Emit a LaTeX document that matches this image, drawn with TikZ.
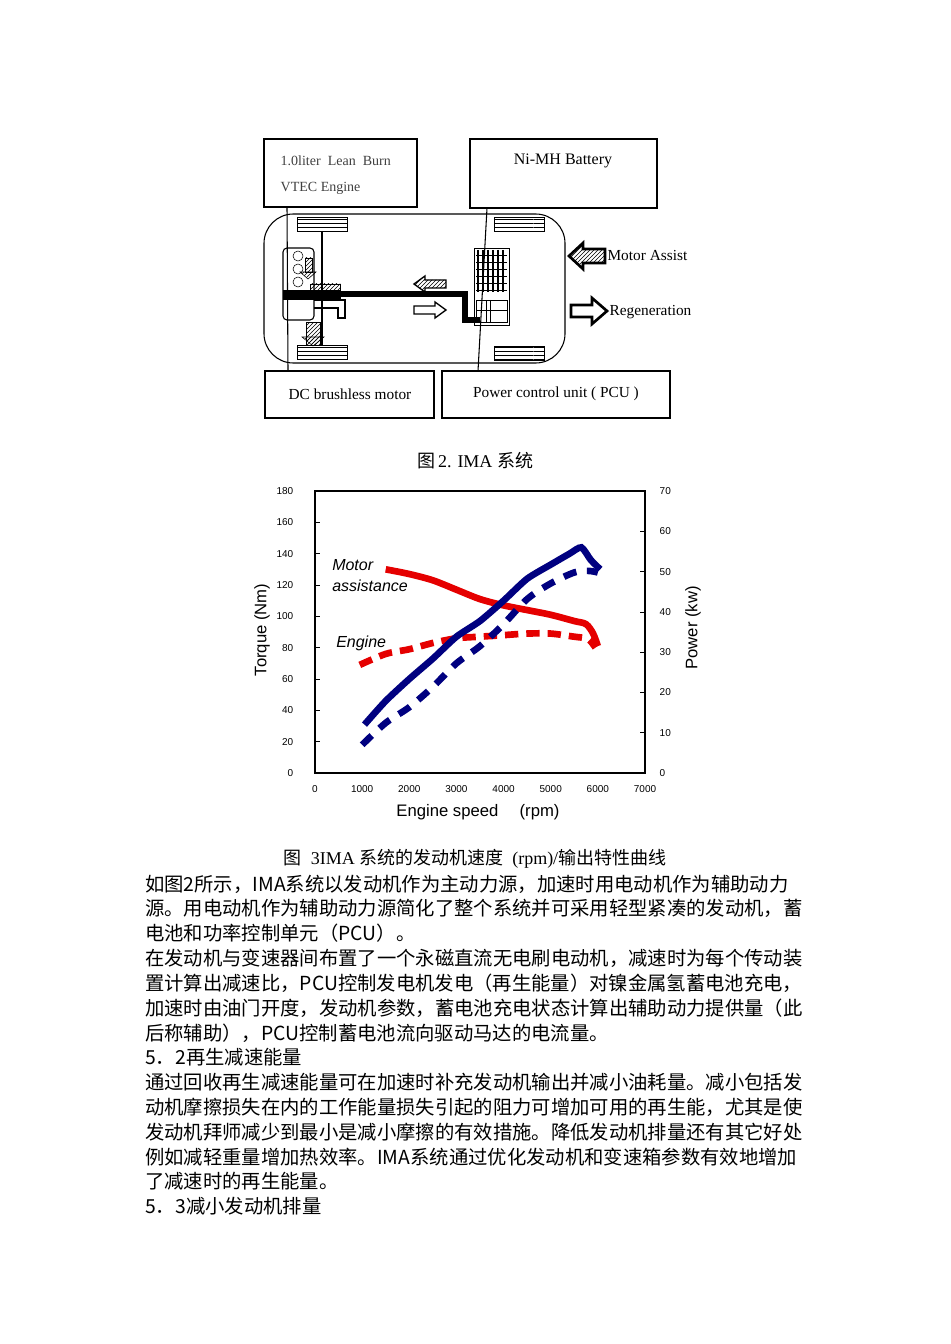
\documentclass[tikz,border=0pt]{standalone}
\usepackage{fontspec}
\setmainfont{Liberation Serif}
\setsansfont{Liberation Sans}
\newfontfamily\cjk{Noto Sans CJK SC}
\usetikzlibrary{patterns}
\begin{document}
\begin{tikzpicture}[x=0.75pt,y=-0.75pt,
 bx/.style={draw,line width=1pt},
 wheel/.style={draw,pattern=horizontal lines,line width=0.6pt},
 tl/.style={font=\sffamily\fontsize{7.5}{8}\selectfont},
 body/.style={anchor=west,inner sep=0,font=\fontsize{14.5}{15}\selectfont},
 red/.style={color=red!90!black,line width=5pt},
 blu/.style={color=blue!50!black,line width=5pt}]
\useasboundingbox (0,0) rectangle (950,1344);
% ---- top diagram ----
\draw[bx] (264,139) rectangle (417,207);
\node[anchor=west,font=\fontsize{10.5}{11}\selectfont,text=black!75] (engt) at (276,161) {1.0liter~ Lean~ Burn};
\node[anchor=west,font=\fontsize{10.5}{11}\selectfont,text=black!75] (engt2) at (276,188) {VTEC Engine};
\draw[bx] (470,139) rectangle (657,208);
\node[font=\fontsize{12}{12}\selectfont] (batt) at (563,161) {Ni-MH Battery};
\draw[bx] (265,371) rectangle (434,418);
\node[font=\fontsize{11.5}{12}\selectfont] (dcmt) at (350,394) {DC brushless motor};
\draw[bx] (442,371) rectangle (670,418);
\node[font=\fontsize{11.5}{12}\selectfont] (pcut) at (556,394) {Power control unit ( PCU )};
% car
\draw[line width=0.8pt,rounded corners=22] (264,214) rectangle (565,363);
\foreach \x/\y in {297/217,297/345,494/217,494/346}
  \draw[wheel] (\x,\y) rectangle ++(50,14);
\draw[line width=0.8pt] (322,231) -- (322,345);
% engine block
\draw[line width=0.8pt,rounded corners=3] (283,248) rectangle (314,320);
\foreach \y in {256,269,282} \draw (298,\y) circle (5);
\draw[pattern=north east lines] (305,258) rectangle (312,272);
\draw[pattern=north east lines] (300,272) -- (316,272) -- (308,279) -- cycle;
\draw[fill=black] (283,290) rectangle (340,299);
\draw[pattern=north east lines] (310,284) rectangle (340,298);
\draw[line width=0.8pt] (314,300) -- (345,300) -- (345,318) -- (338,318) -- (338,308) -- (314,308);
\draw[pattern=north east lines] (306,322) rectangle (320,345);
\draw[pattern=north east lines] (302,337) -- (324,337) -- (313,346) -- cycle;
% shaft
\draw[line width=4pt] (340,294) -- (465,294) -- (465,320) -- (480,320);
% battery pack
\draw[line width=0.6pt] (474,248) rectangle (509,325);
\foreach \x in {478,483,...,505} \draw[line width=0.8pt] (\x,250) -- (\x,292);
\foreach \y in {255,262,...,290} \draw (476,\y) -- (507,\y);
\draw (476,300) rectangle (507,322);
\draw (476,310) -- (507,310);
\draw (486,300) -- (486,322);\draw (490,300) -- (490,322);
% small arrows
\draw[pattern=north east lines,line width=1pt] (446,280) -- (425,280) -- (425,276) -- (414,284) -- (425,292) -- (425,288) -- (446,288) -- cycle;
\draw[line width=1pt,fill=white] (414,306) -- (435,306) -- (435,302) -- (446,310) -- (435,318) -- (435,314) -- (414,314) -- cycle;
% big arrows
\draw[pattern=north east lines,line width=2pt] (605,249) -- (583,249) -- (583,243) -- (569,256) -- (583,269) -- (583,263) -- (605,263) -- cycle;
\node[anchor=west,font=\fontsize{11.5}{12}\selectfont,inner sep=1] (ma) at (606,255) {Motor Assist};
\draw[line width=2pt,fill=white] (571,305) -- (592,305) -- (592,298) -- (607,311) -- (592,324) -- (592,317) -- (571,317) -- cycle;
\node[anchor=west,font=\fontsize{11.5}{12}\selectfont,inner sep=1] (rg) at (608,312) {Regeneration};
% leader lines
\draw[line width=0.8pt] (287,207) -- (288,371);
\draw[line width=0.8pt] (487,208) -- (478,371);
\node[font=\fontsize{13.5}{15}\selectfont] (cap1) at (475,461) {{\cjk 图}\,2. IMA {\cjk 系统}};
% ---- chart ----
\draw[line width=1.2pt] (315,491) rectangle (645,773);
\foreach \v [count=\i from 0] in {0,20,...,180} {
  \pgfmathsetmacro\yy{773-\i*282/9}
  \node[tl,anchor=east] at (298,\yy) {\v};
  \draw (315,\yy) -- (320,\yy);}
\foreach \v [count=\i from 0] in {0,10,...,70} {
  \pgfmathsetmacro\yy{773-\i*282/7}
  \node[tl,anchor=west] at (655,\yy) {\v};
  \draw (640,\yy) -- (645,\yy);}
\foreach \v [count=\i from 0] in {0,1000,...,7000} {
  \pgfmathsetmacro\xx{315+\i*330/7}
  \node[tl] at (\xx,789) {\v};}
\node[font=\sffamily\fontsize{12.5}{13}\selectfont] (xl) at (478,812) {Engine speed \quad (rpm)};
\node[font=\sffamily\fontsize{12.5}{13}\selectfont,rotate=90] (yl) at (262,630) {Torque (Nm)};
\node[font=\sffamily\fontsize{12.5}{13}\selectfont,rotate=90] (yr) at (693,628) {Power (kw)};
\node[anchor=west,font=\sffamily\itshape\fontsize{12}{13}\selectfont,inner sep=0] (mt) at (332,565) {Motor};
\node[anchor=west,font=\sffamily\itshape\fontsize{12}{13}\selectfont,inner sep=0] (mt2) at (332,586) {assistance};
\node[anchor=west,font=\sffamily\itshape\fontsize{12}{13}\selectfont,inner sep=0] (et) at (336,643) {Engine};
\begin{scope}[shift={(315,773)},x=0.0353571pt,y=1.175pt]
 \draw[red] plot[smooth] coordinates {(1500,130)(2000,127)(2500,123)(3000,117)(3500,111)(4000,107)(4500,104)(5000,101)(5500,97)(5750,95)(5900,89)(6000,81)};
 \draw[red,dash pattern=on 10pt off 6pt] plot[smooth] coordinates {(950,69)(1500,76)(2000,79)(2500,83)(3000,86)(3500,87)(4000,88)(4500,89)(5000,89)(5500,87)(5750,86)(5850,84)(5950,80)};
 \draw[blu] plot[smooth,tension=0.4] coordinates {(1050,30.9)(1500,46)(2000,60)(2500,73)(3000,87)(3500,97)(4000,110)(4500,124)(5000,133)(5400,140)(5650,144)(5850,136)(6050,130)};
 \draw[blu,dash pattern=on 10pt off 8pt] plot[smooth] coordinates {(1000,18)(1500,32)(2000,42)(2500,55)(3000,70)(3500,81)(4000,95)(4500,111)(5000,121)(5500,128)(5800,129)(6000,128)};
\end{scope}
% ---- text ----
\node[font=\fontsize{13.5}{15}\selectfont] (cap2) at (475,859) {{\cjk 图}\ \ 3IMA {\cjk 系统的发动机速度} \ (rpm)/{\cjk 输出特性曲线}};
\foreach \t [count=\i from 0] in {
 {如图2所示，IMA系统以发动机作为主动力源，加速时用电动机作为辅助动力},
 {源。用电动机作为辅助动力源简化了整个系统并可采用轻型紧凑的发动机，蓄},
 {电池和功率控制单元（PCU）。},
 {在发动机与变速器间布置了一个永磁直流无电刷电动机，减速时为每个传动装},
 {置计算出减速比，PCU控制发电机发电（再生能量）对镍金属氢蓄电池充电，},
 {加速时由油门开度，发动机参数，蓄电池充电状态计算出辅助动力提供量（此},
 {后称辅助），PCU控制蓄电池流向驱动马达的电流量。},
 {5．2再生减速能量},
 {通过回收再生减速能量可在加速时补充发动机输出并减小油耗量。减小包括发},
 {动机摩擦损失在内的工作能量损失引起的阻力可增加可用的再生能，尤其是使},
 {发动机拜师减少到最小是减小摩擦的有效措施。降低发动机排量还有其它好处},
 {例如减轻重量增加热效率。IMA系统通过优化发动机和变速箱参数有效地增加},
 {了减速时的再生能量。},
 {5．3减小发动机排量}}
 { \pgfmathsetmacro\yy{884+\i*24.8}
   \node[body] at (145,\yy) {\cjk \t}; }
\end{tikzpicture}
\end{document}
